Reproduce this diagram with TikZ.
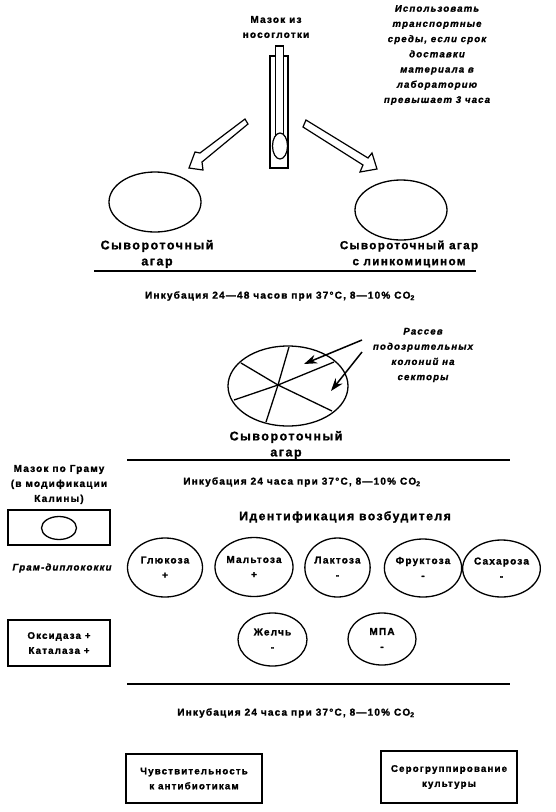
\documentclass[tikz,border=0pt]{standalone}
\usepackage{fontspec}
\setmainfont{Liberation Sans}[BoldFont={Liberation Sans Bold},BoldItalicFont={Liberation Sans Bold Italic},LetterSpace=12,BoldFeatures={FakeBold=1.5},BoldItalicFeatures={FakeBold=1.5}]
\usetikzlibrary{arrows.meta,shapes.geometric}
\tikzset{
 lab/.style={font=\fontsize{10}{15}\selectfont\bfseries,align=center,inner sep=0pt},
 labit/.style={font=\fontsize{9.6}{15.2}\selectfont\bfseries\itshape,align=center,inner sep=0pt},
 big/.style={font=\fontsize{12.5}{16}\selectfont\bfseries,align=center,inner sep=0pt},
 dish/.style={draw,line width=1.3pt,ellipse,minimum width=92pt,minimum height=60pt},
 test/.style={draw,line width=1.3pt,ellipse,inner sep=0pt,font=\fontsize{10}{15}\selectfont\bfseries,align=center},
 boxed/.style={draw,line width=1.3pt,inner sep=0pt,font=\fontsize{9.7}{15}\selectfont\bfseries,align=center},
 rule/.style={line width=2pt},
 hollow/.style={draw,line width=1.2pt,fill=white},
 thinarrow/.style={line width=1.5pt,-{Stealth[length=13pt,width=9pt]}}
}
\begin{document}
\begin{tikzpicture}[x=1pt,y=-1pt]
\useasboundingbox (0,0) rectangle (556,812);
% top
\node[lab] (swab) at (276,27) {Мазок из\\носоглотки};
\node[labit] (note) at (437,55) {Использовать\\транспортные\\среды, если срок\\доставки\\материала в\\лабораторию\\превышает 3 часа};
% tube
\node[draw,line width=1.2pt,minimum width=18pt,minimum height=112pt,inner sep=0pt] (tube) at (279,112) {};
\node[draw,line width=1.2pt,fill=white,minimum width=8pt,minimum height=90pt,inner sep=0pt] (stick) at (279.5,91) {};
\node[draw,line width=1.2pt,fill=white,ellipse,minimum width=15pt,minimum height=26pt,inner sep=0pt] (tip) at (280,146) {};
% hollow arrows
\path[hollow] (248,124) -- (245,119) -- (200,153) -- (195,152) -- (189,168) -- (203,170) -- (202,162) -- cycle;
\path[hollow] (303,127) -- (306,120) -- (368,158) -- (372,153) -- (377,169) -- (360,172) -- (363,165) -- cycle;
% dishes
\node[dish] (d1) at (155,202) {};
\node[dish] (d2) at (401,210) {};
\node[big] (d1t) at (157,254) {Сывороточный\\агар};
\node[big,font=\fontsize{11.6}{16}\selectfont\bfseries] (d2t) at (409,254) {Сывороточный агар\\с линкомицином};
\draw[rule] (94,271) -- (476,271);
\node[lab] (inc1) at (280,296) {Инкубация 24---48 часов при 37°C, 8---10\% CO\textsubscript{2}};
% sector dish
\node[draw,line width=1.3pt,ellipse,minimum width=120pt,minimum height=80pt,inner sep=0pt] (sec) at (288,386) {};
\coordinate (c) at (278,385);
\draw[line width=1.3pt] (289,347) -- (c) -- (266,422);
\draw[line width=1.3pt] (334,362) -- (c) -- (234,400);
\draw[line width=1.3pt] (241,363) -- (c) -- (332,411);
\coordinate (n1) at (362,340);
\coordinate (n2) at (362,352);
\coordinate (t1) at (304,364);
\coordinate (t2) at (331,391);
\draw[thinarrow] (n1) -- (t1);
\draw[thinarrow] (n2) -- (t2);
\node[labit] (scatter) at (423,355) {Рассев\\подозрительных\\колоний на\\секторы};
\node[big] (sect) at (286,445) {Сывороточный\\агар};
\draw[rule] (127,460) -- (510,460);
\node[lab] (inc2) at (302,482) {Инкубация 24 часа при 37°C, 8---10\% CO\textsubscript{2}};
% left column
\node[lab] (gram) at (59,484.5) {Мазок по Граму\\(в модификации\\Калины)};
\node[draw,line width=1.3pt,minimum width=102pt,minimum height=35pt,inner sep=0pt] (slide) at (59,527.5) {};
\node[draw,line width=1.3pt,ellipse,minimum width=35pt,minimum height=23pt,inner sep=0pt] (smear) at (59,528) {};
\node[labit] (gd) at (62,568) {Грам-диплококки};
\node[boxed,minimum width=102pt,minimum height=46pt] (ox) at (59,643) {Оксидаза +\\Каталаза +};
% id
\node[big,font=\fontsize{12.2}{16}\selectfont\bfseries] (idt) at (345,517) {Идентификация возбудителя};
\node[test,minimum width=75pt,minimum height=59pt] (e1) at (165,567.5) {Глюкоза\\+};
\node[test,minimum width=72pt,minimum height=59pt] (e2) at (254,567) {Мальтоза\\+};
\node[test,minimum width=65pt,minimum height=59pt] (e3) at (337.5,567.5) {Лактоза\\-};
\node[test,minimum width=70pt,minimum height=58pt] (e4) at (423,568) {Фруктоза\\-};
\node[test,minimum width=69pt,minimum height=57pt] (e5) at (501.5,568.5) {Сахароза\\-};
\node[test,minimum width=69pt,minimum height=53pt] (e6) at (272.5,639.5) {Желчь\\-};
\node[test,minimum width=68pt,minimum height=52pt] (e7) at (382,639) {МПА\\-};
\draw[rule] (127,684) -- (510,684);
\node[lab] (inc3) at (296,713) {Инкубация 24 часа при 37°C, 8---10\% CO\textsubscript{2}};
\node[boxed,minimum width=136pt,minimum height=49pt] (b1) at (194,778.5) {Чувствительность\\к антибиотикам};
\node[boxed,minimum width=136pt,minimum height=52pt] (b2) at (449,777) {Серогруппирование\\культуры};
\end{tikzpicture}
\end{document}
